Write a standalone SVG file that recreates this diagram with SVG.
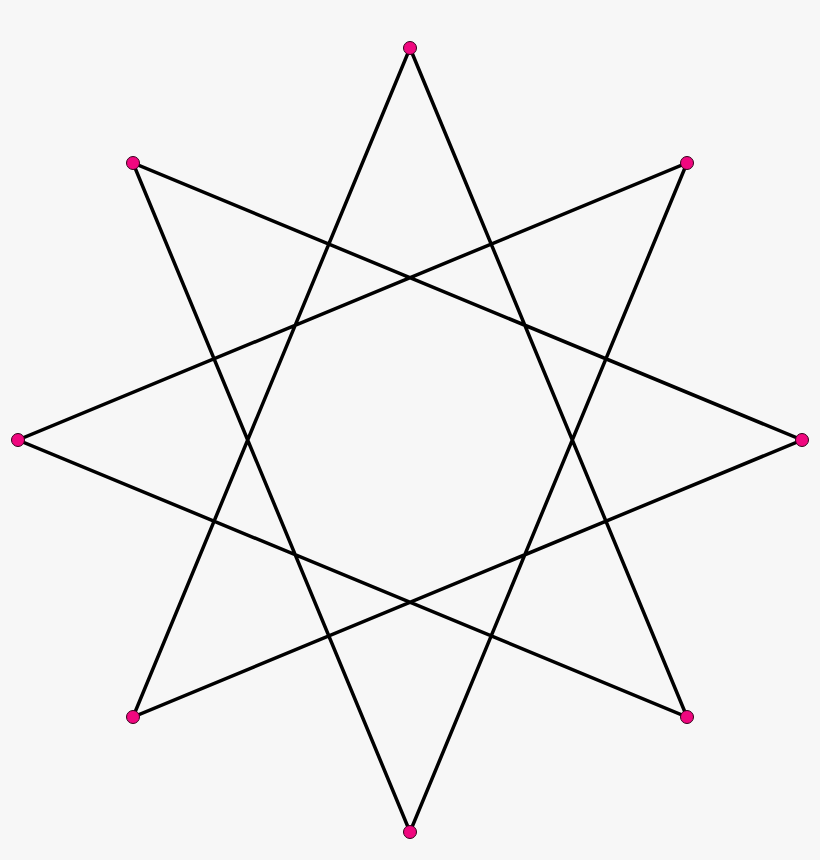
<svg xmlns="http://www.w3.org/2000/svg" width="820" height="860" viewBox="0 0 820 860">
<style>
.e{stroke:#000;stroke-width:3.5;fill:none;stroke-linejoin:miter}
.v{fill:#f0077f;stroke:#330019;stroke-width:1}
</style>
<rect width="820" height="860" fill="#f7f7f7"/>
<g id="connectors">
<polygon class="e" points="410,48 687,717 18,440 687,163 410,832 133,163 802,440 133,717"/>
</g>
<g id="v0"><circle class="v" cx="410" cy="48" r="6.5"/></g>
<g id="v1"><circle class="v" cx="687" cy="163" r="6.5"/></g>
<g id="v2"><circle class="v" cx="802" cy="440" r="6.5"/></g>
<g id="v3"><circle class="v" cx="687" cy="717" r="6.5"/></g>
<g id="v4"><circle class="v" cx="410" cy="832" r="6.5"/></g>
<g id="v5"><circle class="v" cx="133" cy="717" r="6.5"/></g>
<g id="v6"><circle class="v" cx="18" cy="440" r="6.5"/></g>
<g id="v7"><circle class="v" cx="133" cy="163" r="6.5"/></g>
</svg>
